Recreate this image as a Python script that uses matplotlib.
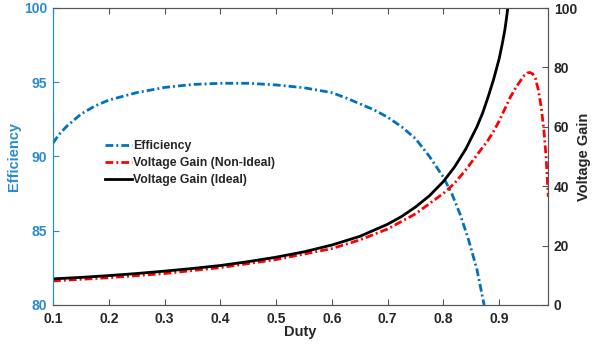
import matplotlib
matplotlib.use("Agg")
import matplotlib.pyplot as plt

plt.rcParams['font.family'] = ['Liberation Sans', 'DejaVu Sans']
plt.rcParams['font.weight'] = 'bold'

# Efficiency (%) vs duty
eff_duty = [0.1, 0.11, 0.125, 0.15, 0.175, 0.2, 0.25, 0.3, 0.35, 0.4, 0.45, 0.5,
            0.55, 0.6, 0.625, 0.65, 0.675, 0.7, 0.725, 0.75, 0.775, 0.8, 0.815,
            0.83, 0.845, 0.86, 0.873]
efficiency = [90.9, 91.45, 92.05, 92.85, 93.4, 93.8, 94.3, 94.65, 94.85, 94.93,
              94.93, 94.82, 94.63, 94.3, 93.95, 93.55, 93.15, 92.65, 92.0, 91.2,
              90.0, 88.6, 87.5, 86.1, 84.4, 82.4, 80.0]

# Voltage gain (ideal)
ideal_duty = [0.1, 0.15, 0.2, 0.25, 0.3, 0.35, 0.4, 0.45, 0.5, 0.55, 0.6, 0.65,
              0.7, 0.725, 0.75, 0.775, 0.8, 0.82, 0.84, 0.86, 0.87, 0.88, 0.89,
              0.895, 0.9, 0.905, 0.91, 0.913, 0.916]
gain_ideal = [8.8, 9.3, 9.9, 10.6, 11.4, 12.3, 13.3, 14.6, 16.1, 17.9, 20.2, 23.1,
              27.2, 29.8, 33.0, 36.8, 41.6, 46.5, 52.5, 60.0, 64.5, 70.0, 76.0,
              79.5, 83.0, 87.5, 92.5, 96.5, 101.0]

# Voltage gain (non-ideal)
real_duty = [0.1, 0.2, 0.3, 0.4, 0.5, 0.6, 0.65, 0.7, 0.75, 0.8, 0.82, 0.84, 0.86,
             0.88, 0.89, 0.9, 0.91, 0.92, 0.93, 0.94, 0.945, 0.95, 0.955, 0.96,
             0.965, 0.97, 0.975, 0.98, 0.984, 0.986, 0.988]
gain_real = [8.1, 9.2, 10.6, 12.6, 15.3, 19.0, 21.9, 25.6, 30.7, 37.6, 41.0, 45.5,
             50.5, 55.5, 58.5, 62.0, 66.0, 70.0, 73.3, 76.0, 77.3, 78.1, 78.3, 77.8,
             76.3, 72.5, 67.0, 59.0, 50.0, 43.2, 36.5]

x_ticks = [0.1, 0.2, 0.3, 0.4, 0.5, 0.6, 0.7, 0.8, 0.9]
left_ticks = [80, 85, 90, 95, 100]
right_ticks = [0, 20, 40, 60, 80, 100]

blue_line = '#0072BD'
blue_axis = '#2a8bd2'
dark = '#262626'
spine_gray = '#555555'
dd = (2.8, 1.1, 0.7, 1.1)

fig = plt.figure(figsize=(5.94, 3.49), dpi=100)
ax = fig.add_axes([53/594, 1-305/349, (548.3-53)/594, (305-8)/349])
ax2 = ax.twinx()

l1, = ax.plot(eff_duty, efficiency, color=blue_line, lw=2.0, dashes=dd,
              label='Efficiency')
l2, = ax2.plot(real_duty, gain_real, color='#ff0000', lw=2.0, dashes=dd,
               label='Voltage Gain (Non-Ideal)')
l3, = ax2.plot(ideal_duty, gain_ideal, '-', color='black', lw=2.0,
               label='Voltage Gain (Ideal)')

ax.set_xlim(0.1, 0.988)
ax.set_ylim(80, 100)
ax2.set_ylim(0, 100)
ax.set_xticks(x_ticks)
ax.set_xticklabels([f'{t:g}' for t in x_ticks])
ax.set_yticks(left_ticks)
ax2.set_yticks(right_ticks)

fs = 10
ax.tick_params(axis='x', direction='in', length=4, colors=spine_gray,
               labelcolor=dark, labelsize=fs, top=True, width=0.8, pad=5)
ax.tick_params(axis='y', direction='in', length=4, colors=blue_axis,
               labelcolor=blue_axis, labelsize=fs, width=0.8, pad=4)
ax2.tick_params(axis='y', direction='in', length=4, colors=spine_gray,
                labelcolor=dark, labelsize=fs, width=0.8, pad=4)
for lbl in ax.get_xticklabels() + ax.get_yticklabels() + ax2.get_yticklabels():
    lbl.set_fontweight('bold')

for a in (ax, ax2):
    for s in a.spines.values():
        s.set_color(spine_gray)
        s.set_linewidth(0.8)
ax.spines['left'].set_color(blue_axis)
ax2.spines['left'].set_color(blue_axis)

ax.set_xlabel('Duty', fontsize=10.5, fontweight='bold', color=dark)
ax.set_ylabel('Efficiency', fontsize=10.5, fontweight='bold', color=blue_axis)
ax2.set_ylabel('Voltage Gain', fontsize=10.5, fontweight='bold', color=dark)
ax.xaxis.set_label_coords(0.5, -(332-305)/297)
ax.yaxis.set_label_coords(-(53-14)/495.3, 0.5)
ax2.yaxis.set_label_coords(1 + (584-548.3)/495.3, 0.5)
ax.xaxis.label.set_va('center')
ax.yaxis.label.set_va('center')
ax2.yaxis.label.set_va('center')

leg = ax2.legend(handles=[l1, l2, l3], loc='upper left',
                 bbox_to_anchor=(105/594, 1-140/349), bbox_transform=fig.transFigure,
                 frameon=False, fontsize=8.8, borderpad=0, handlelength=2.2,
                 handletextpad=0.1, labelspacing=0.42, borderaxespad=0)
for t in leg.get_texts():
    t.set_fontweight('bold')
    t.set_color(dark)

fig.savefig('out.png', dpi=100)
